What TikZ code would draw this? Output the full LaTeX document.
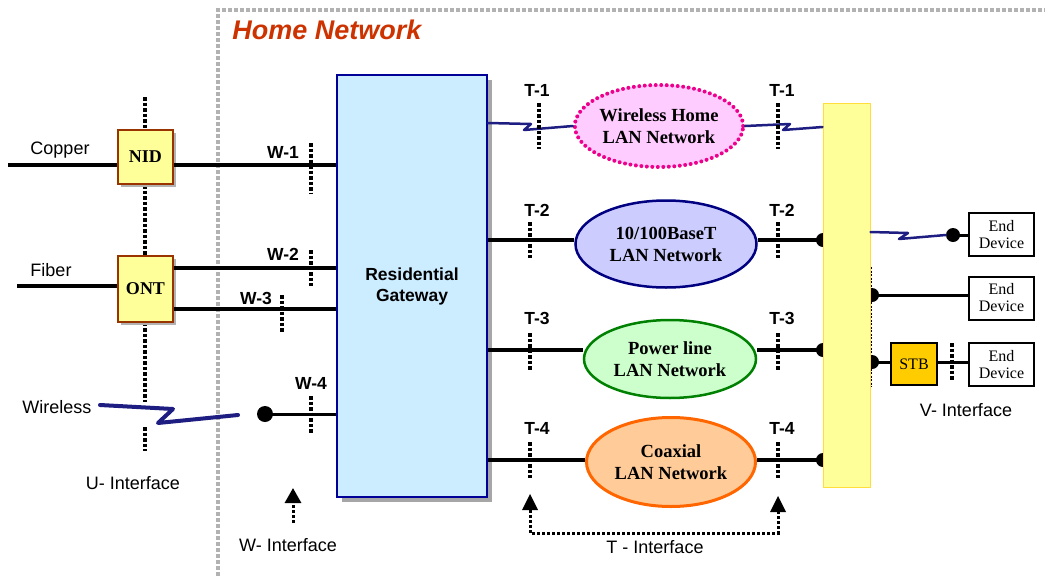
\documentclass[tikz,border=0pt]{standalone}
\usepackage{fontspec}
\setmainfont{Liberation Serif}
\setsansfont{Liberation Sans}
\usetikzlibrary{shapes.geometric,arrows.meta}
\definecolor{zigblue}{RGB}{30,30,130}
\definecolor{nidbrown}{RGB}{153,51,0}
\definecolor{nidyellow}{RGB}{255,255,153}
\definecolor{gwfill}{RGB}{204,236,255}
\definecolor{gwdraw}{RGB}{0,0,153}
\definecolor{homered}{RGB}{204,51,0}
\definecolor{pinkfill}{RGB}{255,204,255}
\definecolor{bluefill}{RGB}{204,204,255}
\definecolor{bluedraw}{RGB}{0,0,128}
\definecolor{greenfill}{RGB}{204,255,204}
\definecolor{greendraw}{RGB}{0,128,0}
\definecolor{orangefill}{RGB}{255,204,153}
\definecolor{orangedraw}{RGB}{255,102,0}
\definecolor{vbox}{RGB}{255,255,153}
\definecolor{vboxdraw}{RGB}{255,221,60}
\definecolor{stbfill}{RGB}{255,204,0}
\begin{document}
\begin{tikzpicture}[x=1pt,y=-1pt,
  lbl/.style={font=\sffamily\fontsize{18}{20}\selectfont, inner sep=0pt},
  tlbl/.style={font=\sffamily\bfseries\fontsize{17.5}{19}\selectfont, inner sep=0pt},
  wire/.style={line width=3.5pt},
  thinwire/.style={line width=3pt},
  tickln/.style={line width=3.5pt, dash pattern=on 3.5pt off 2pt},
  zig/.style={line width=2.5pt, color=zigblue, line join=round, line cap=round},
  nidbox/.style={rectangle, draw=nidbrown, fill=nidyellow, line width=2.5pt, inner sep=0pt,
     font=\bfseries\fontsize{18}{20}\selectfont},
  lan/.style={ellipse, line width=2.5pt, inner sep=0pt, align=center,
     font=\bfseries\fontsize{18.5}{22}\selectfont},
  enddev/.style={rectangle, draw, line width=2pt, minimum width=65pt, minimum height=43pt,
     inner sep=0pt, align=center, font=\fontsize{16}{17}\selectfont},
  dot/.style={circle, fill=black, inner sep=0pt, minimum size=14pt},
  arrowhd/.style={-{Triangle[length=15pt,width=16pt]}, line width=3pt, dash pattern=on 3pt off 2pt}
]
\useasboundingbox (0,0) rectangle (1045,576);

% Home network boundary
\draw[gray!60, line width=4pt, dash pattern=on 4pt off 2pt] (218,576) -- (218,10) -- (1045,10);
\node[font=\sffamily\bfseries\itshape\fontsize{27}{30}\selectfont, text=homered, inner sep=0pt] (hn) at (327,30) {Home Network};

% U interface dotted line
\draw[tickln] (145,97) -- (145,402);
\draw[tickln] (145,427) -- (145,451);

% Gateway
\fill[gray!70] (342,80) rectangle (492,502);
\node[rectangle, draw=gwdraw, fill=gwfill, line width=2pt, minimum width=150pt, minimum height=422pt,
  inner sep=0pt, align=center, font=\sffamily\bfseries\fontsize{17.5}{21}\selectfont] (gw) at (412,286) {Residential\\Gateway};

% NID / ONT
\fill[gray!60] (121,133) rectangle (176,187);
\node[nidbox, minimum width=55pt, minimum height=54pt] (nid) at (145.5,157) {NID};
\fill[gray!60] (121,259) rectangle (176,325);
\node[nidbox, minimum width=55pt, minimum height=66pt] (ont) at (145.5,289) {ONT};

% Left lines
\coordinate (cu) at (8,165);
\coordinate (fi) at (17,286);
\draw[wire] (cu) -- (nid.west |- cu);
\node[lbl] (copper) at (60,150) {Copper};
\draw[wire] (fi) -- (ont.west |- fi);
\node[lbl] (fiber) at (51,270) {Fiber};
\draw[wire] (nid.east |- 0,165) -- (gw.west |- 0,165);
\draw[wire] (ont.east |- 0,268) -- (gw.west |- 0,268);
\draw[wire] (ont.east |- 0,309) -- (gw.west |- 0,309);

% W ticks
\node[tlbl] (w1) at (283,152) {W-1};
\draw[tickln] (311,143) -- (311,193);
\node[tlbl] (w2) at (283,254) {W-2};
\draw[tickln] (311,250) -- (311,286);
\node[tlbl] (w3) at (256,298) {W-3};
\draw[tickln] (282,295) -- (282,332);
\node[tlbl] (w4) at (311,383) {W-4};
\node[dot, minimum size=16pt] (w4dot) at (265,414) {};
\draw[thinwire] (w4dot.center) -- (gw.west |- 0,414);
\draw[tickln] (311,396) -- (311,433);

% Wireless
\node[lbl] (wless) at (57,407) {Wireless};
\draw[zig, line width=4pt] (100,405) -- (173,409) -- (158,423) -- (238,415);

\node[lbl] (uif) at (133,483) {U- Interface};
\node[lbl] (wif) at (288,545) {W- Interface};
\coordinate (wa) at (293,523);
\coordinate (wb) at (293,488);
\draw[arrowhd] (wa) -- (wb);

% V box
\node[dot] (d2) at (823,240) {};
\node[dot] (d3) at (823,350) {};
\node[dot] (d4) at (823,460) {};
\node[dot] (v2) at (872,295) {};
\node[dot] (v3) at (872,362) {};
\node[rectangle, draw=vboxdraw, fill=vbox, line width=1pt, minimum width=47pt, minimum height=384pt, inner sep=0pt] (vb) at (846.5,295) {};
\draw[line width=0.8pt, dash pattern=on 2pt off 1.5pt] (871,267) -- (871,387);

% LAN ellipses
\node[lan, draw=magenta, fill=pinkfill, dash pattern=on 0pt off 5.5pt, line cap=round, line width=4pt,
  minimum width=168pt, minimum height=82pt] (wl) at (659,126) {Wireless Home\\LAN Network};
\node[lan, draw=bluedraw, fill=bluefill, minimum width=181pt, minimum height=87pt] (eth) at (666,244) {10/100BaseT\\LAN Network};
\node[lan, draw=greendraw, fill=greenfill, minimum width=172pt, minimum height=78pt] (pl) at (670,359) {Power line\\LAN Network};
\node[lan, draw=orangedraw, fill=orangefill, line width=3pt, minimum width=169pt, minimum height=89pt] (cx) at (671,462) {Coaxial\\LAN Network};

% T lines
\draw[zig] (gw.east |- 0,123) -- (531,124) -- (524,130) -- (wl.west);
\draw[zig] (wl.east) -- (790,124) -- (783,130) -- (vb.west |- 0,127);
\draw[wire] (gw.east |- 0,240) -- (eth.west |- 0,240);
\draw[wire] (eth.east |- 0,240) -- (d2.center);
\draw[wire] (gw.east |- 0,350) -- (pl.west |- 0,350);
\draw[wire] (pl.east |- 0,350) -- (d3.center);
\draw[wire] (gw.east |- 0,460) -- (cx.west |- 0,460);
\draw[wire] (cx.east |- 0,460) -- (d4.center);

% T ticks and labels
\foreach \y/\a/\b/\t [count=\i] in {90/103/149/T-1, 210/222/258/T-2, 318/333/370/T-3, 428/442/478/T-4}{
  \node[tlbl] (tl\i) at (537,\y) {\t};
  \node[tlbl] (tr\i) at (782,\y) {\t};
  \draw[tickln] (\ifnum\i=1 539\else 530\fi,\a) -- (\ifnum\i=1 539\else 530\fi,\b);
  \draw[tickln] (778,\a) -- (778,\b);
}

% T interface
\coordinate (ta) at (530,494);
\coordinate (tb) at (778,496);
\coordinate (tc) at (530,533);
\coordinate (td) at (778,533);
\draw[line width=3pt, dash pattern=on 3pt off 2pt] (tc |- 0,510) -- (tc) -- (td) -- (td |- 0,512);
\fill (ta) -- ++(-8,16) -- ++(16,0) -- cycle;
\fill (tb) -- ++(-8,16) -- ++(16,0) -- cycle;
\node[lbl] (tif) at (655,547) {T - Interface};

% End devices
\node[enddev] (e1) at (1001.5,234.5) {End\\Device};
\node[enddev] (e2) at (1001.5,298) {End\\Device};
\node[enddev] (e3) at (1001.5,364.5) {End\\Device};
\node[rectangle, draw, fill=stbfill, line width=2pt, minimum width=46pt, minimum height=42pt, inner sep=0pt,
  font=\fontsize{16}{17}\selectfont] (stb) at (914,364) {STB};
\node[dot] (e1dot) at (953,235) {};
\draw[zig] (vb.east |- 0,232) -- (908,233) -- (899,239) -- (e1dot.west);
\draw[thinwire] (e1dot.center) -- (e1.west |- e1dot);
\draw[thinwire] (v2.center) -- (e2.west |- v2);
\draw[thinwire] (v3.center) -- (stb.west |- v3);
\draw[thinwire] (stb.east |- v3) -- (e3.west |- v3);
\draw[tickln] (952,343) -- (952,380);
\node[lbl] (vif) at (966,410) {V- Interface};
\end{tikzpicture}
\end{document}
